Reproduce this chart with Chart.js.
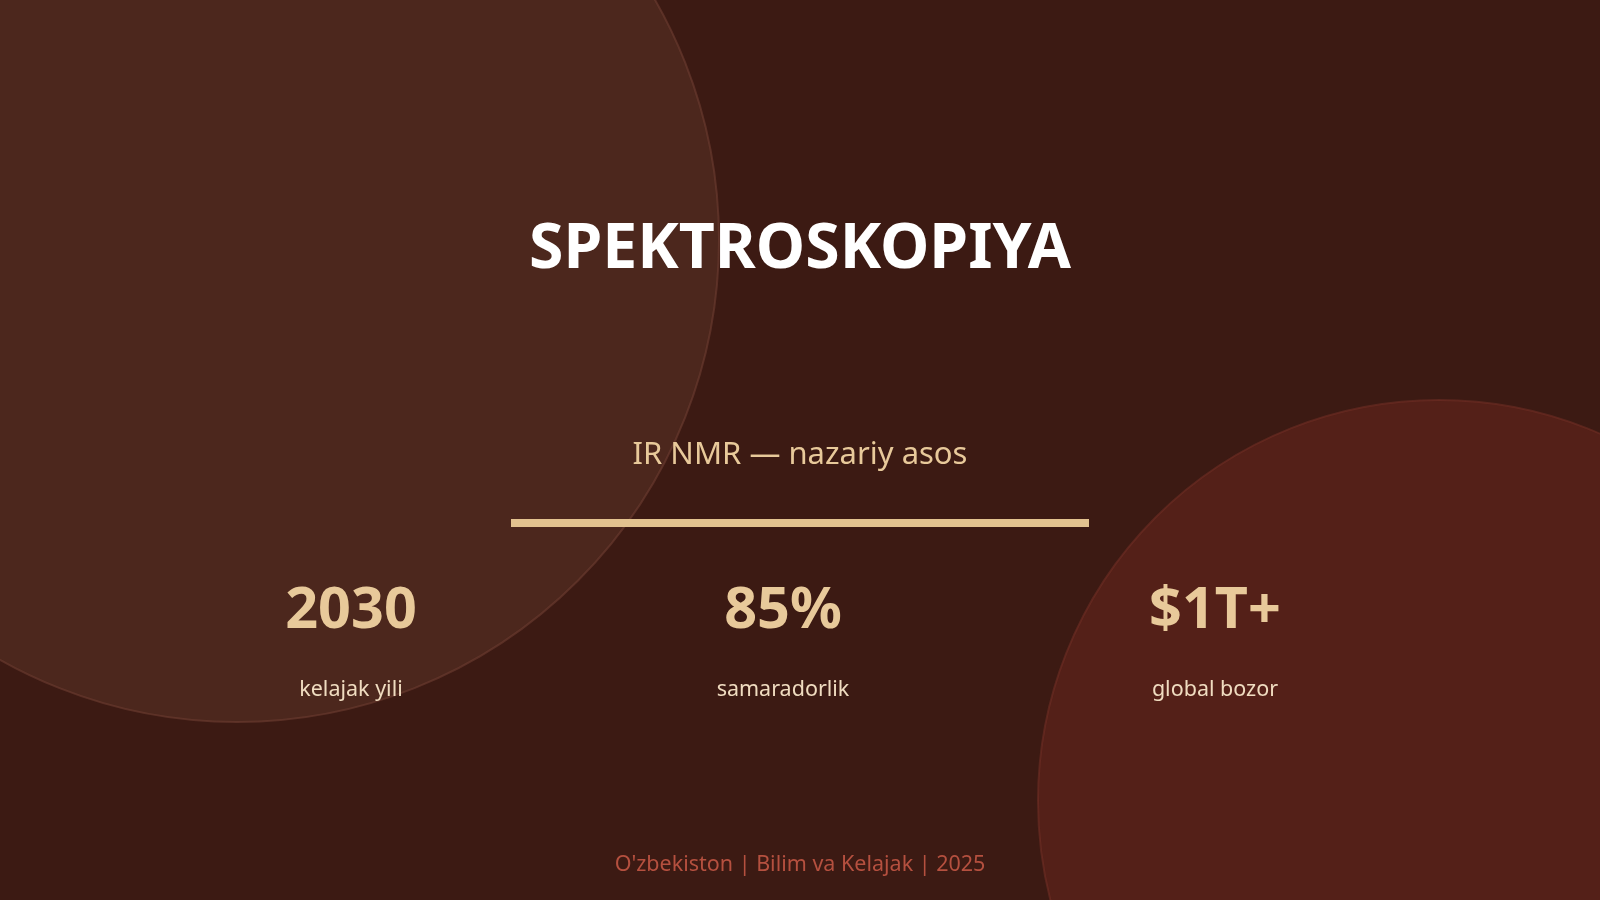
<!DOCTYPE html>
<html><head><meta charset="utf-8">
<script src="https://cdn.jsdelivr.net/npm/chart.js@4/dist/chart.umd.min.js"></script>
<style>
html,body{margin:0;padding:0;width:1600px;height:900px;overflow:hidden;background:#3c1a13;font-family:"Noto Sans",sans-serif}
#wrap{position:absolute;left:0;top:0;width:1600px;height:900px}
.t{position:absolute;transform:translate(-50%,-50%);white-space:nowrap;text-align:center}
</style></head><body>
<div id="wrap"><canvas id="c" width="1600" height="900"></canvas></div>
<div class="t" style="left:800px;top:243px;font-size:62.5px;font-weight:700;color:#fff">SPEKTROSKOPIYA</div>
<div class="t" style="left:800px;top:452px;font-size:31px;color:#e8c99a">IR NMR — nazariy asos</div>
<div style="position:absolute;left:511px;top:519px;width:578px;height:8px;background:#e3c28f"></div>
<div id="stats"></div>
<div class="t" style="left:800px;top:862px;font-size:21.5px;color:#b5503f">O'zbekiston | Bilim va Kelajak | 2025</div>
<script>
const statValues=["2030","85%","$1T+"];
const statLabels=["kelajak yili","samaradorlik","global bozor"];
const statX=[351,783,1215];
const circleX=[237,1439];
const circleY=[240,801];
const circleR=[482,401];
const circleColors=["rgba(86,48,36,0.6)","rgba(100,36,28,0.6)"];
const circleBorders=["rgba(110,62,50,0.6)","rgba(120,50,40,0.5)"];
const s=document.getElementById('stats');
statValues.forEach((v,i)=>{
 s.innerHTML+=`<div class="t" style="left:${statX[i]}px;top:606px;font-size:57.5px;font-weight:700;color:#e8c99a">${v}</div>`+
 `<div class="t" style="left:${statX[i]}px;top:687px;font-size:21.5px;color:#f0dcc0">${statLabels[i]}</div>`;
});
new Chart(document.getElementById('c'),{
 type:'scatter',
 data:{datasets:[{data:circleX.map((x,i)=>({x,y:circleY[i]})),
  pointRadius:circleR,pointHoverRadius:circleR,
  backgroundColor:circleColors,borderColor:circleBorders,borderWidth:2,clip:false}]},
 options:{responsive:false,animation:false,layout:{padding:0,autoPadding:false},events:[],
  plugins:{legend:{display:false},tooltip:{enabled:false}},
  scales:{x:{type:'linear',min:0,max:1600,display:false},y:{type:'linear',min:0,max:900,reverse:true,display:false}}}
});
</script>
</body></html>
